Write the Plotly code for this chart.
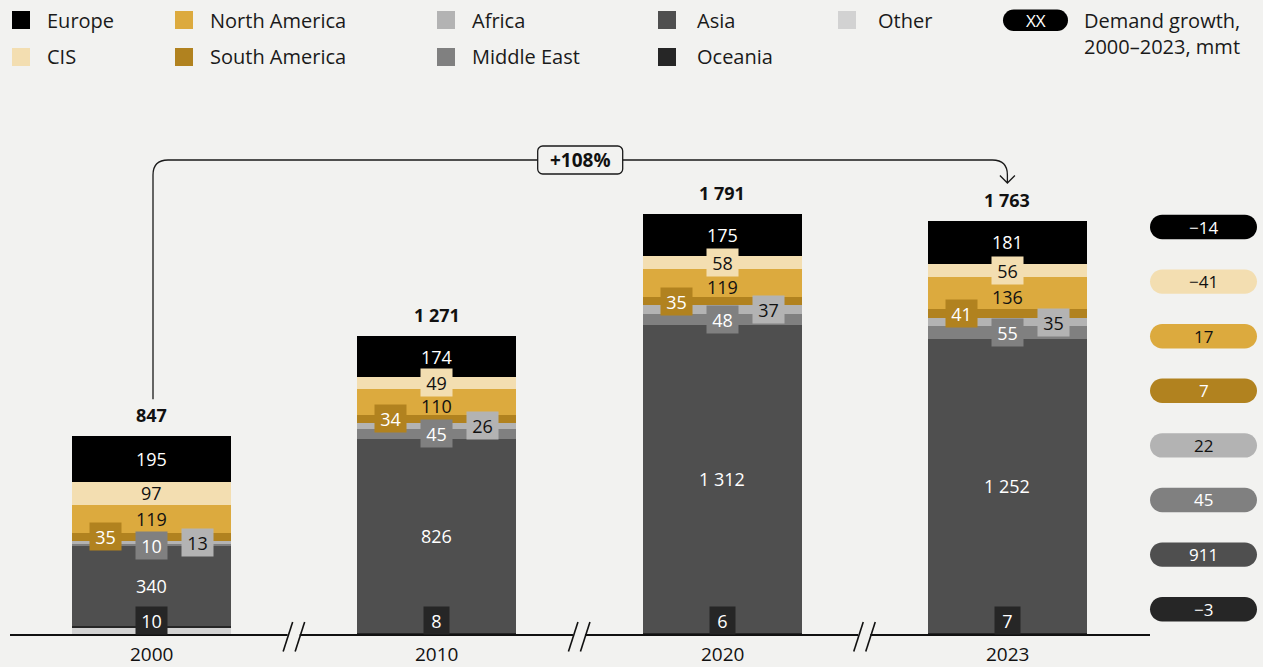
import plotly.graph_objects as go

# ---------------- data ----------------
years = ["2000", "2010", "2020", "2023"]
other = [28, 0, 1, 0]
oceania = [10, 8, 6, 7]
asia = [340, 826, 1312, 1252]
middle_east = [10, 45, 48, 55]
africa = [13, 26, 37, 35]
south_america = [35, 34, 35, 41]
north_america = [119, 110, 119, 136]
cis = [97, 49, 58, 56]
europe = [195, 174, 175, 181]
total_labels = [847, 1271, 1791, 1763]

growth_regions = ["Europe", "CIS", "North America", "South America",
                  "Africa", "Middle East", "Asia", "Oceania"]
growth_values = [-14, -41, 17, 7, 22, 45, 911, -3]
growth_pct = "+108%"

# stacking order bottom -> top
series = [
    ("Other", other),
    ("Oceania", oceania),
    ("Asia", asia),
    ("Middle East", middle_east),
    ("Africa", africa),
    ("South America", south_america),
    ("North America", north_america),
    ("CIS", cis),
    ("Europe", europe),
]

colors = {
    "Europe": "#000000",
    "CIS": "#f3deb1",
    "North America": "#dcaa3e",
    "South America": "#b1821f",
    "Africa": "#b3b3b3",
    "Middle East": "#808080",
    "Asia": "#4f4f4f",
    "Oceania": "#262626",
    "Other": "#d2d2d2",
}
LIGHT, DARK = "#ffffff", "#111111"
text_colors = {
    "Europe": LIGHT, "CIS": DARK, "North America": DARK, "South America": LIGHT,
    "Africa": DARK, "Middle East": LIGHT, "Asia": LIGHT, "Oceania": LIGHT, "Other": DARK,
}
label_xshift = {"South America": -46, "Africa": 46}

BG = "#f2f2f0"
FONT = "Open Sans"
W, H = 1263, 667

# ---------------- geometry of the axes ----------------
C0, STEP = 151.5, 285.3       # pixel centre of first bar, spacing
BASE, K = 635.0, 0.2348       # baseline pixel row, pixels per unit
x_lo, x_hi = -C0 / STEP, (W - C0) / STEP
y_lo, y_hi = -(H - BASE) / K, BASE / K
BAR_W = 159 / STEP


def xpx(i):
    return C0 + STEP * i


def ypx(v):
    return BASE - K * v


def P(x, y):
    return f"{x / W:.5f},{1 - y / H:.5f}"


def rrect(x0, y0, x1, y1, r):
    k = 0.5523 * r
    return (f"M {P(x0 + r, y0)} L {P(x1 - r, y0)} "
            f"C {P(x1 - r + k, y0)} {P(x1, y0 + r - k)} {P(x1, y0 + r)} "
            f"L {P(x1, y1 - r)} "
            f"C {P(x1, y1 - r + k)} {P(x1 - r + k, y1)} {P(x1 - r, y1)} "
            f"L {P(x0 + r, y1)} "
            f"C {P(x0 + r - k, y1)} {P(x0, y1 - r + k)} {P(x0, y1 - r)} "
            f"L {P(x0, y0 + r)} "
            f"C {P(x0, y0 + r - k)} {P(x0 + r - k, y0)} {P(x0 + r, y0)} Z")


def fmt(v):
    s = f"{abs(v):,}".replace(",", " ")
    return ("−" + s) if v < 0 else s


def paper_text(x, y, text, size=18, color="#1a1a1a", xanchor="center"):
    return dict(x=x / W, y=1 - y / H, xref="paper", yref="paper", text=text,
                showarrow=False, xanchor=xanchor, yanchor="middle",
                font=dict(family=FONT, size=size, color=color))


xs = list(range(len(years)))

fig = go.Figure()
for name, vals in series:
    fig.add_trace(go.Bar(
        x=xs, y=vals, width=BAR_W, name=name,
        marker=dict(color=colors[name], line=dict(width=0)),
        showlegend=False, hoverinfo="skip",
    ))

annotations = []
shapes = []

# ---------------- segment labels ----------------
for i in xs:
    base = 0
    cis_boxed = cis[i] < 60
    for name, vals in series:
        v = vals[i]
        mid = base + v / 2
        base += v
        if name == "Other" or v == 0:
            continue
        boxed = v < 60
        a = dict(
            x=i, y=mid, xref="x", yref="y", text=fmt(v), showarrow=False,
            xanchor="center", yanchor="middle",
            font=dict(family=FONT, size=18, color=text_colors[name]),
            xshift=label_xshift.get(name, 0),
        )
        if name == "Oceania":
            a.update(y=0, yanchor="bottom")
        if name == "North America" and cis_boxed:
            a.update(yshift=-4)
        if boxed:
            a.update(bgcolor=colors[name], borderpad=2, height=23,
                     width=21 if len(fmt(v)) == 1 else 27)
        annotations.append(a)
    # total
    annotations.append(dict(
        x=i, y=base, xref="x", yref="y", text=f"<b>{fmt(total_labels[i])}</b>",
        showarrow=False, xanchor="center", yanchor="bottom", yshift=7,
        font=dict(family=FONT, size=18, color=DARK)))
    # year
    annotations.append(dict(
        x=i, y=0, xref="x", yref="y", text=years[i], showarrow=False,
        xanchor="center", yanchor="middle", yshift=-(653.5 - BASE),
        font=dict(family=FONT, size=19, color=DARK)))

# ---------------- baseline with breaks ----------------
shapes.append(dict(type="line", xref="paper", yref="paper",
                   x0=10 / W, x1=1150 / W, y0=1 - BASE / H, y1=1 - BASE / H,
                   line=dict(color="#111111", width=2)))
for j in range(len(years) - 1):
    cx = (xpx(j) + xpx(j + 1)) / 2
    shapes.append(dict(type="rect", xref="paper", yref="paper",
                       x0=(cx - 6.5) / W, x1=(cx + 5.5) / W,
                       y0=1 - (BASE + 3) / H, y1=1 - (BASE - 3) / H,
                       fillcolor=BG, line=dict(width=0)))
    for dx in (-11, 1):
        shapes.append(dict(type="line", xref="paper", yref="paper",
                           x0=(cx + dx) / W, y0=1 - (BASE + 16.5) / H,
                           x1=(cx + dx + 9.5) / W, y1=1 - (BASE - 13) / H,
                           line=dict(color="#111111", width=1.6)))

# ---------------- growth arrow ----------------
ax0, ax1 = xpx(0) + 1.5, xpx(len(xs) - 1)
top_y, r = 160, 15
start_y = ypx(total_labels[0]) - 37
tip_y = ypx(total_labels[-1]) - 38
arrow_path = (f"M {P(ax0, start_y)} L {P(ax0, top_y + r)} "
              f"Q {P(ax0, top_y)} {P(ax0 + r, top_y)} "
              f"L {P(ax1 - r, top_y)} Q {P(ax1, top_y)} {P(ax1, top_y + r)} "
              f"L {P(ax1, tip_y)} "
              f"M {P(ax1 - 7.5, tip_y - 7.5)} L {P(ax1, tip_y)} L {P(ax1 + 7.5, tip_y - 7.5)}")
shapes.append(dict(type="path", xref="paper", yref="paper", path=arrow_path,
                   line=dict(color="#1a1a1a", width=1.3)))
mx = (ax0 + ax1) / 2
shapes.append(dict(type="path", xref="paper", yref="paper",
                   path=rrect(mx - 42.5, top_y - 14, mx + 42.5, top_y + 14, 5),
                   fillcolor=BG, line=dict(color="#1a1a1a", width=1.3)))
annotations.append(paper_text(mx, top_y, f"<b>{growth_pct}</b>", size=19, color=DARK))

# ---------------- growth pills ----------------
for n, (name, v) in enumerate(zip(growth_regions, growth_values)):
    cy = 227 + 54.6 * n
    shapes.append(dict(type="path", xref="paper", yref="paper",
                       path=rrect(1150, cy - 12.2, 1257, cy + 12.2, 12.2),
                       fillcolor=colors[name], line=dict(width=0)))
    annotations.append(paper_text(1203.5, cy, fmt(v), size=17, color=text_colors[name]))

# ---------------- legend ----------------
legend_layout = [
    ("Europe", 12, 46, 20), ("CIS", 12, 46, 57),
    ("North America", 175, 209, 20), ("South America", 175, 209, 57),
    ("Africa", 437, 471, 20), ("Middle East", 437, 471, 57),
    ("Asia", 658, 696, 20), ("Oceania", 658, 696, 57),
    ("Other", 838, 877, 20),
]
for name, sx, tx, cy in legend_layout:
    shapes.append(dict(type="rect", xref="paper", yref="paper",
                       x0=sx / W, x1=(sx + 18) / W,
                       y0=1 - (cy - 9) / H, y1=1 - (cy + 9) / H,
                       fillcolor=colors[name], line=dict(width=0)))
    annotations.append(paper_text(tx - 1.5, cy, name, size=20, xanchor="left"))
shapes.append(dict(type="path", xref="paper", yref="paper",
                   path=rrect(1003, 9.5, 1068, 31, 10.75),
                   fillcolor="#000000", line=dict(width=0)))
annotations.append(paper_text(1035.5, 20.5, "XX", size=17, color=LIGHT))
annotations.append(paper_text(1081.5, 20, "Demand growth,", size=20, xanchor="left"))
annotations.append(paper_text(1081.5, 46, "2000–2023, mmt", size=20, xanchor="left"))

fig.update_layout(
    width=W, height=H, autosize=False,
    margin=dict(l=0, r=0, t=0, b=0, pad=0),
    paper_bgcolor=BG, plot_bgcolor=BG,
    barmode="stack",
    xaxis=dict(range=[x_lo, x_hi], visible=False, fixedrange=True),
    yaxis=dict(range=[y_lo, y_hi], visible=False, fixedrange=True),
    shapes=shapes, annotations=annotations,
    font=dict(family=FONT),
)

fig.write_html("out.html")
